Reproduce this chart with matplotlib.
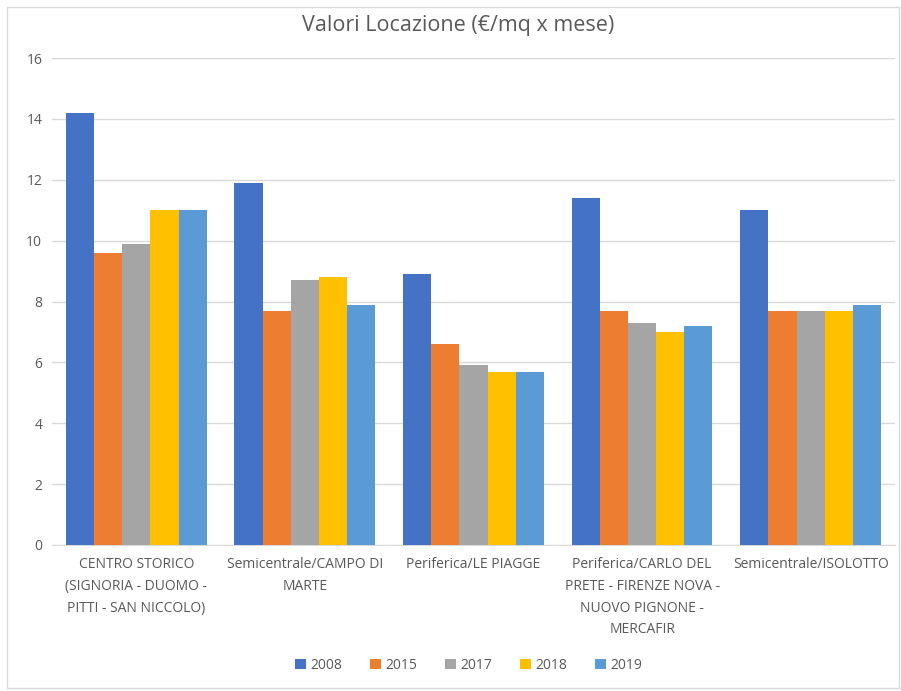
import matplotlib.pyplot as plt
import numpy as np
from matplotlib.patches import Rectangle

categories = [
    "CENTRO STORICO\n(SIGNORIA - DUOMO -\nPITTI - SAN NICCOLO)",
    "Semicentrale/CAMPO DI\nMARTE",
    "Periferica/LE PIAGGE",
    "Periferica/CARLO DEL\nPRETE - FIRENZE NOVA -\nNUOVO PIGNONE -\nMERCAFIR",
    "Semicentrale/ISOLOTTO",
]
years = ["2008", "2015", "2017", "2018", "2019"]
v2008 = [14.2, 11.9, 8.9, 11.4, 11.0]
v2015 = [9.6, 7.7, 6.6, 7.7, 7.7]
v2017 = [9.9, 8.7, 5.9, 7.3, 7.7]
v2018 = [11.0, 8.8, 5.7, 7.0, 7.7]
v2019 = [11.0, 7.9, 5.7, 7.2, 7.9]
series = [v2008, v2015, v2017, v2018, v2019]
colors = ["#4472C4", "#ED7D31", "#A5A5A5", "#FFC000", "#5B9BD5"]

plt.rcParams['font.family'] = ['Open Sans', 'DejaVu Sans']
text_col = "#595959"

fig = plt.figure(figsize=(9.01, 6.91), dpi=100)
# light chart border like the Excel frame
fig.patches.append(Rectangle((0.008, 0.004), 0.99, 0.986, transform=fig.transFigure,
                             fill=False, edgecolor="#D9D9D9", linewidth=1))
ax = fig.add_axes([0.0577, 0.2113, 0.9356, 0.7047])

x = np.arange(len(categories))
bar_w = 0.167
for i, (vals, col, yr) in enumerate(zip(series, colors, years)):
    ax.bar(x + (i - 2) * bar_w, vals, width=bar_w, color=col, label=yr, zorder=3)

ax.set_xlim(-0.5, len(categories) - 0.5)
ax.set_ylim(0, 16)
ax.set_yticks(range(0, 17, 2))
ax.grid(True, axis='y', color="#D9D9D9", linewidth=1, zorder=0)
for s in ["top", "right", "left"]:
    ax.spines[s].set_visible(False)
ax.spines["bottom"].set_color("#D9D9D9")
ax.tick_params(axis='both', length=0, colors=text_col, labelsize=10)
ax.tick_params(axis='y', pad=7)
ax.set_xticks(x)
ax.set_xticklabels(categories, linespacing=1.6)
ax.tick_params(axis='x', pad=9)

fig.text(0.509, 0.963, "Valori Locazione (€/mq x mese)", ha='center', va='center',
         fontsize=15.5, color=text_col)

leg = fig.legend(loc='center', bbox_to_anchor=(0.52, 0.037), ncol=5, frameon=False,
                 fontsize=10, handlelength=0.8, handleheight=0.8, handletextpad=0.3,
                 columnspacing=2.0)
for t in leg.get_texts():
    t.set_color(text_col)

fig.savefig("out.png", dpi=100)
